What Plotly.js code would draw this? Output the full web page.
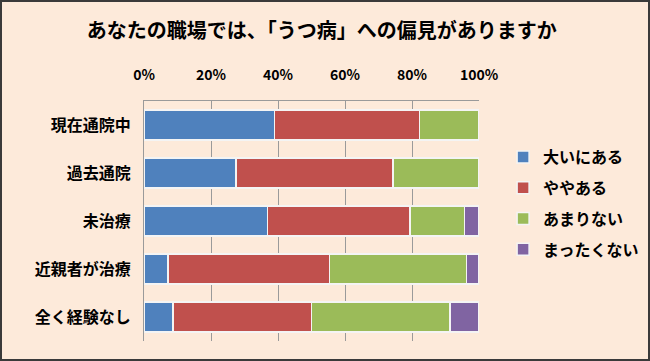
<!DOCTYPE html>
<html>
<head>
<meta charset="utf-8">
<script src="https://cdn.plot.ly/plotly-3.0.1.min.js"></script>
<style>
  html, body { margin: 0; padding: 0; background: #FDEADA; }
  #wrap { position: relative; width: 650px; height: 361px; }
  #chart { width: 650px; height: 361px; }
  #frame { position: absolute; left: 0; top: 0; width: 650px; height: 361px; box-sizing: border-box; border: 2px solid #3a3a3a; pointer-events: none; }
</style>
</head>
<body>
<div id="wrap"><div id="chart"></div><div id="frame"></div></div>
<script>
const categories = ["現在通院中", "過去通院", "未治療", "近親者が治療", "全く経験なし"];
const seriesNames = ["大いにある", "ややある", "あまりない", "まったくない"];
const ooini   = [38.9, 27.4, 36.8, 7.2, 8.7];
const yaya    = [43.4, 46.9, 42.6, 48.1, 41.3];
const amari   = [17.7, 25.7, 16.3, 41.0, 41.4];
const mattaku = [0.0, 0.0, 4.3, 3.7, 8.6];
const tickVals = [0, 20, 40, 60, 80, 100];
const tickText = ["0%", "20%", "40%", "60%", "80%", "100%"];
const colors = ["#4F81BD", "#C0504D", "#9BBB59", "#8064A2"];

const seriesValues = [ooini, yaya, amari, mattaku];
const FONT = "'Noto Sans CJK JP', 'Noto Sans', sans-serif";

const traces = seriesValues.map((vals, i) => ({
  type: "bar",
  orientation: "h",
  name: seriesNames[i],
  y: categories,
  x: vals,
  legendgroup: "g" + i,
  marker: { color: colors[i], line: { color: "#F4F4F4", width: 1.5 } },
  hoverinfo: "skip"
}));

const layout = {
  width: 650,
  height: 361,
  paper_bgcolor: "#FDEADA",
  plot_bgcolor: "#FDEADA",
  margin: { l: 143.5, r: 170.5, t: 100.5, b: 19.5, autoexpand: false },
  barmode: "stack",
  bargap: 0.38,
  showlegend: true,
  title: {
    text: "あなたの職場では、「うつ病」への偏見がありますか",
    font: { family: FONT, size: 20, color: "#000", weight: "bold" },
    xref: "container", yref: "container",
    x: 0.495, y: 0.914, xanchor: "center", yanchor: "middle"
  },
  xaxis: {
    side: "top",
    range: [0, 100],
    tickvals: tickVals,
    ticktext: tickText,
    showgrid: true,
    gridcolor: "#9a9a9a",
    gridwidth: 1,
    showline: true,
    linecolor: "#9a9a9a",
    linewidth: 1,
    mirror: false,
    zeroline: false,
    ticks: "",
    ticklabelstandoff: 14,
    tickfont: { family: FONT, size: 14, color: "#000", weight: "bold" },
    fixedrange: true
  },
  yaxis: {
    type: "category",
    autorange: "reversed",
    showgrid: false,
    showline: true,
    linecolor: "#9a9a9a",
    linewidth: 1,
    zeroline: false,
    ticks: "",
    ticklabelstandoff: 9,
    tickfont: { family: FONT, size: 16, color: "#000", weight: "bold" },
    fixedrange: true
  },
  legend: {
    xref: "container", yref: "container",
    x: 0.774, xanchor: "left",
    y: 0.612, yanchor: "top",
    traceorder: "grouped",
    tracegroupgap: 7,
    bgcolor: "rgba(0,0,0,0)",
    font: { family: FONT, size: 16, color: "#000", weight: "bold" },
    itemwidth: 30
  }
};

Plotly.newPlot("chart", traces, layout, { staticPlot: true, displayModeBar: false });
</script>
</body>
</html>
